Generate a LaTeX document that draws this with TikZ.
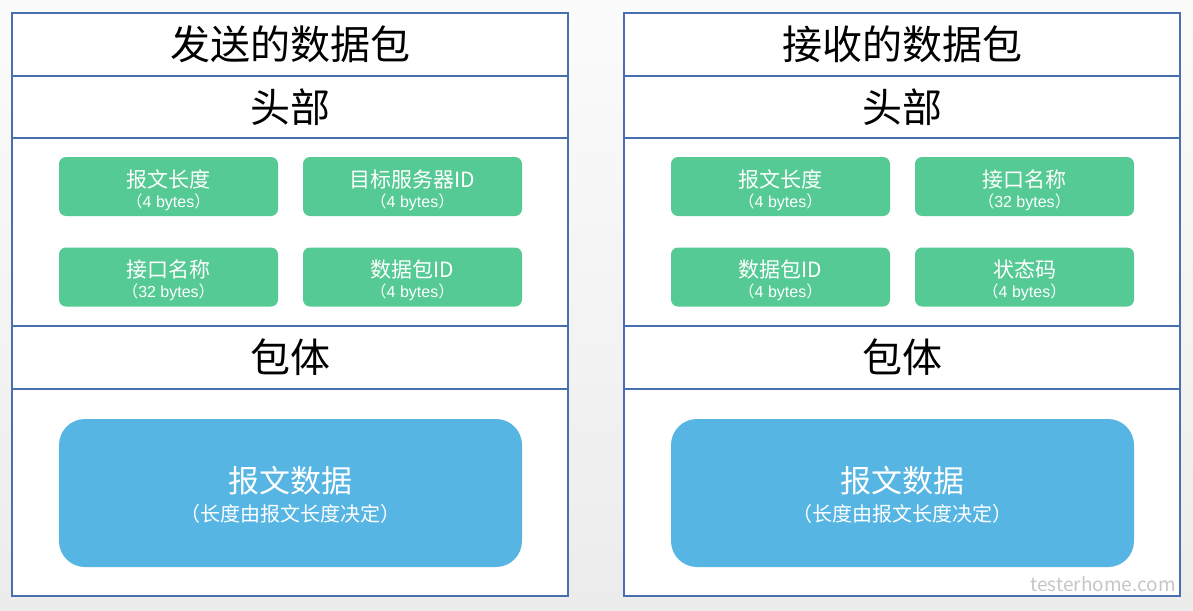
\documentclass[tikz,border=0pt]{standalone}
\usepackage{fontspec}
\setmainfont{Noto Sans CJK SC}
\newfontfamily\latinfont{Liberation Sans}
\usetikzlibrary{positioning}
\definecolor{frameblue}{HTML}{4A6FAE}
\definecolor{fieldgreen}{HTML}{55CA94}
\definecolor{bodyblue}{HTML}{57B5E3}
\newcommand{\fieldtext}[2]{\rule{0pt}{24.5pt}#1\\[-3pt]{\fontsize{16}{18}\selectfont （{\latinfont #2}）}}

\tikzset{
  cell/.style={draw=frameblue, line width=1.6pt, fill=white, minimum width=556pt,
    inner sep=0pt, outer sep=0pt},
  labelcell/.style={cell, font=\fontsize{40}{42}\selectfont},
  fieldbox/.style={fill=fieldgreen, rounded corners=7pt, minimum width=219pt,
    minimum height=59pt, text=white, align=center, inner sep=0pt,
    font=\fontsize{21}{23}\selectfont},
  bodybox/.style={fill=bodyblue, rounded corners=26pt, minimum width=463pt,
    minimum height=148pt, text=white, align=center, inner sep=0pt,
    font=\fontsize{31}{33}\selectfont}
}

\begin{document}
\begin{tikzpicture}[x=1pt, y=-1pt]
    \shade[top color=gray!3, bottom color=gray!15] (0,0) rectangle (1193,610);
    \useasboundingbox (0,0) rectangle (1193,610);

    % sending packet
    \node[labelcell, minimum height=63pt] (sTitle) at (290,44.5) {发送的数据包};
    \node[labelcell, minimum height=62pt, below=0pt of sTitle] (sHead) {头部};
    \node[cell, minimum height=188pt, below=0pt of sHead] (sFields) {};
    \node[labelcell, minimum height=63pt, below=0pt of sFields] (sBodyLbl) {包体};
    \node[cell, minimum height=207pt, below=0pt of sBodyLbl] (sBody) {};

    \node[fieldbox] (sLen) at (168.5,186.5) {\fieldtext{报文长度}{4 bytes}};
    \node[fieldbox] (sSrv) at (412.5,186.5) {\fieldtext{目标服务器ID}{4 bytes}};
    \node[fieldbox] (sIface) at (168.5,277) {\fieldtext{接口名称}{32 bytes}};
    \node[fieldbox] (sPkt) at (412.5,277) {\fieldtext{数据包ID}{4 bytes}};
    \node[bodybox] (sData) at (290.5,493) {\rule{0pt}{30pt}报文数据\\[-4pt]{\fontsize{20}{22}\selectfont （长度由报文长度决定）}};

    % receiving packet
    \node[labelcell, minimum height=63pt] (rTitle) at (902,44.5) {接收的数据包};
    \node[labelcell, minimum height=62pt, below=0pt of rTitle] (rHead) {头部};
    \node[cell, minimum height=188pt, below=0pt of rHead] (rFields) {};
    \node[labelcell, minimum height=63pt, below=0pt of rFields] (rBodyLbl) {包体};
    \node[cell, minimum height=207pt, below=0pt of rBodyLbl] (rBody) {};

    \node[fieldbox] (rLen) at (780.5,186.5) {\fieldtext{报文长度}{4 bytes}};
    \node[fieldbox] (rIface) at (1024.5,186.5) {\fieldtext{接口名称}{32 bytes}};
    \node[fieldbox] (rPkt) at (780.5,277) {\fieldtext{数据包ID}{4 bytes}};
    \node[fieldbox] (rCode) at (1024.5,277) {\fieldtext{状态码}{4 bytes}};
    \node[bodybox] (rData) at (902.5,493) {\rule{0pt}{30pt}报文数据\\[-4pt]{\fontsize{20}{22}\selectfont （长度由报文长度决定）}};

    \node[text=gray!45, font=\fontsize{19}{20}\selectfont] (mark) at (1103,584) {testerhome.com};
\end{tikzpicture}
\end{document}
